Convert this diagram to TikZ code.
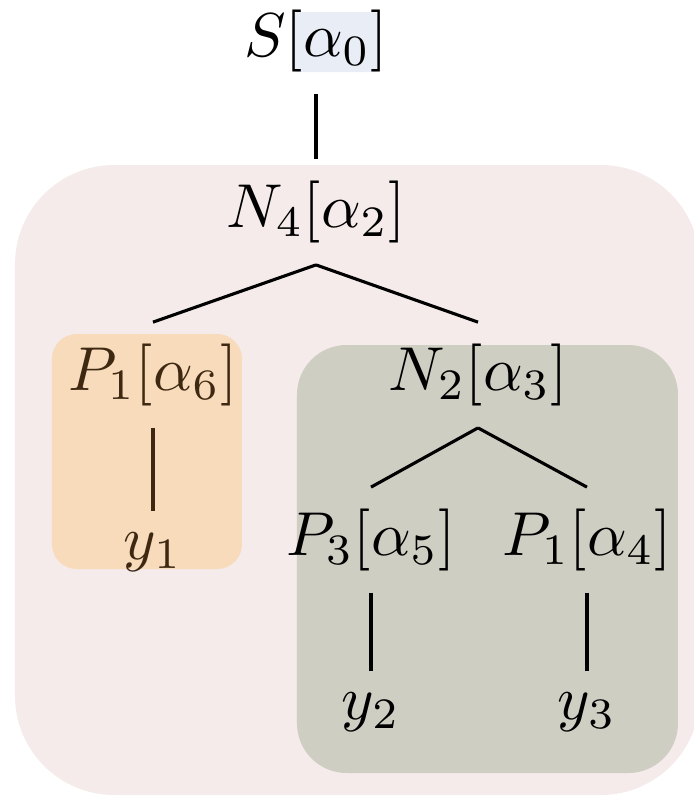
\documentclass[tikz,border=0pt]{standalone}
\usepackage{amsmath}
\usepackage{xcolor}
\usepackage{tikz}
\usetikzlibrary{positioning}

\definecolor{rootbg}{HTML}{F5EBEB}
\definecolor{leftbg}{HTML}{F7DBBA}
\definecolor{rightbg}{HTML}{CECEC3}
\definecolor{tagbg}{HTML}{E9EDF6}
\definecolor{brn}{HTML}{3F2812}

\begin{document}
\begin{tikzpicture}[x=0.1613pt,y=-0.1613pt,
  lb/.style={inner sep=3.33pt,font=\normalsize},
  br/.style={line width=0.5pt},
  box/.style={rounded corners=#1}]
\useasboundingbox (0,0) rectangle (694,796);
\clip (0,0) rectangle (694,796);
% shaded regions
\fill[rootbg,box=16pt] (15,165) rectangle (700,795);
\fill[leftbg,box=4pt] (52,334) rectangle (242,569);
\fill[rightbg,box=8pt] (297,345) rectangle (678,773);
\fill[tagbg,box=1pt] (292,12) rectangle (380,72);
% tree
\node[lb] (s) at (316,41) {$S[\alpha_0]$};
\node[lb] (n4) at (316,212) {$N_4[\alpha_2]$};
\node[lb,text=brn] (p1a) at (153,375) {$P_1[\alpha_6]$};
\node[lb,text=brn] (y1) at (153,552) {$y_1$};
\node[lb] (n2) at (478,375) {$N_2[\alpha_3]$};
\node[lb] (p3) at (371,540) {$P_3[\alpha_5]$};
\node[lb] (p1b) at (587,540) {$P_1[\alpha_4]$};
\node[lb] (y2) at (371,712) {$y_2$};
\node[lb] (y3) at (587,712) {$y_3$};
\draw[br] (s.south) -- (n4.north);
\draw[br] (n4.south) -- (p1a.north);
\draw[br] (n4.south) -- (n2.north);
\draw[br,brn] (p1a.south) -- (y1.north);
\draw[br] (n2.south) -- (p3.north);
\draw[br] (n2.south) -- (p1b.north);
\draw[br] (p3.south) -- (y2.north);
\draw[br] (p1b.south) -- (y3.north);
\end{tikzpicture}
\end{document}
